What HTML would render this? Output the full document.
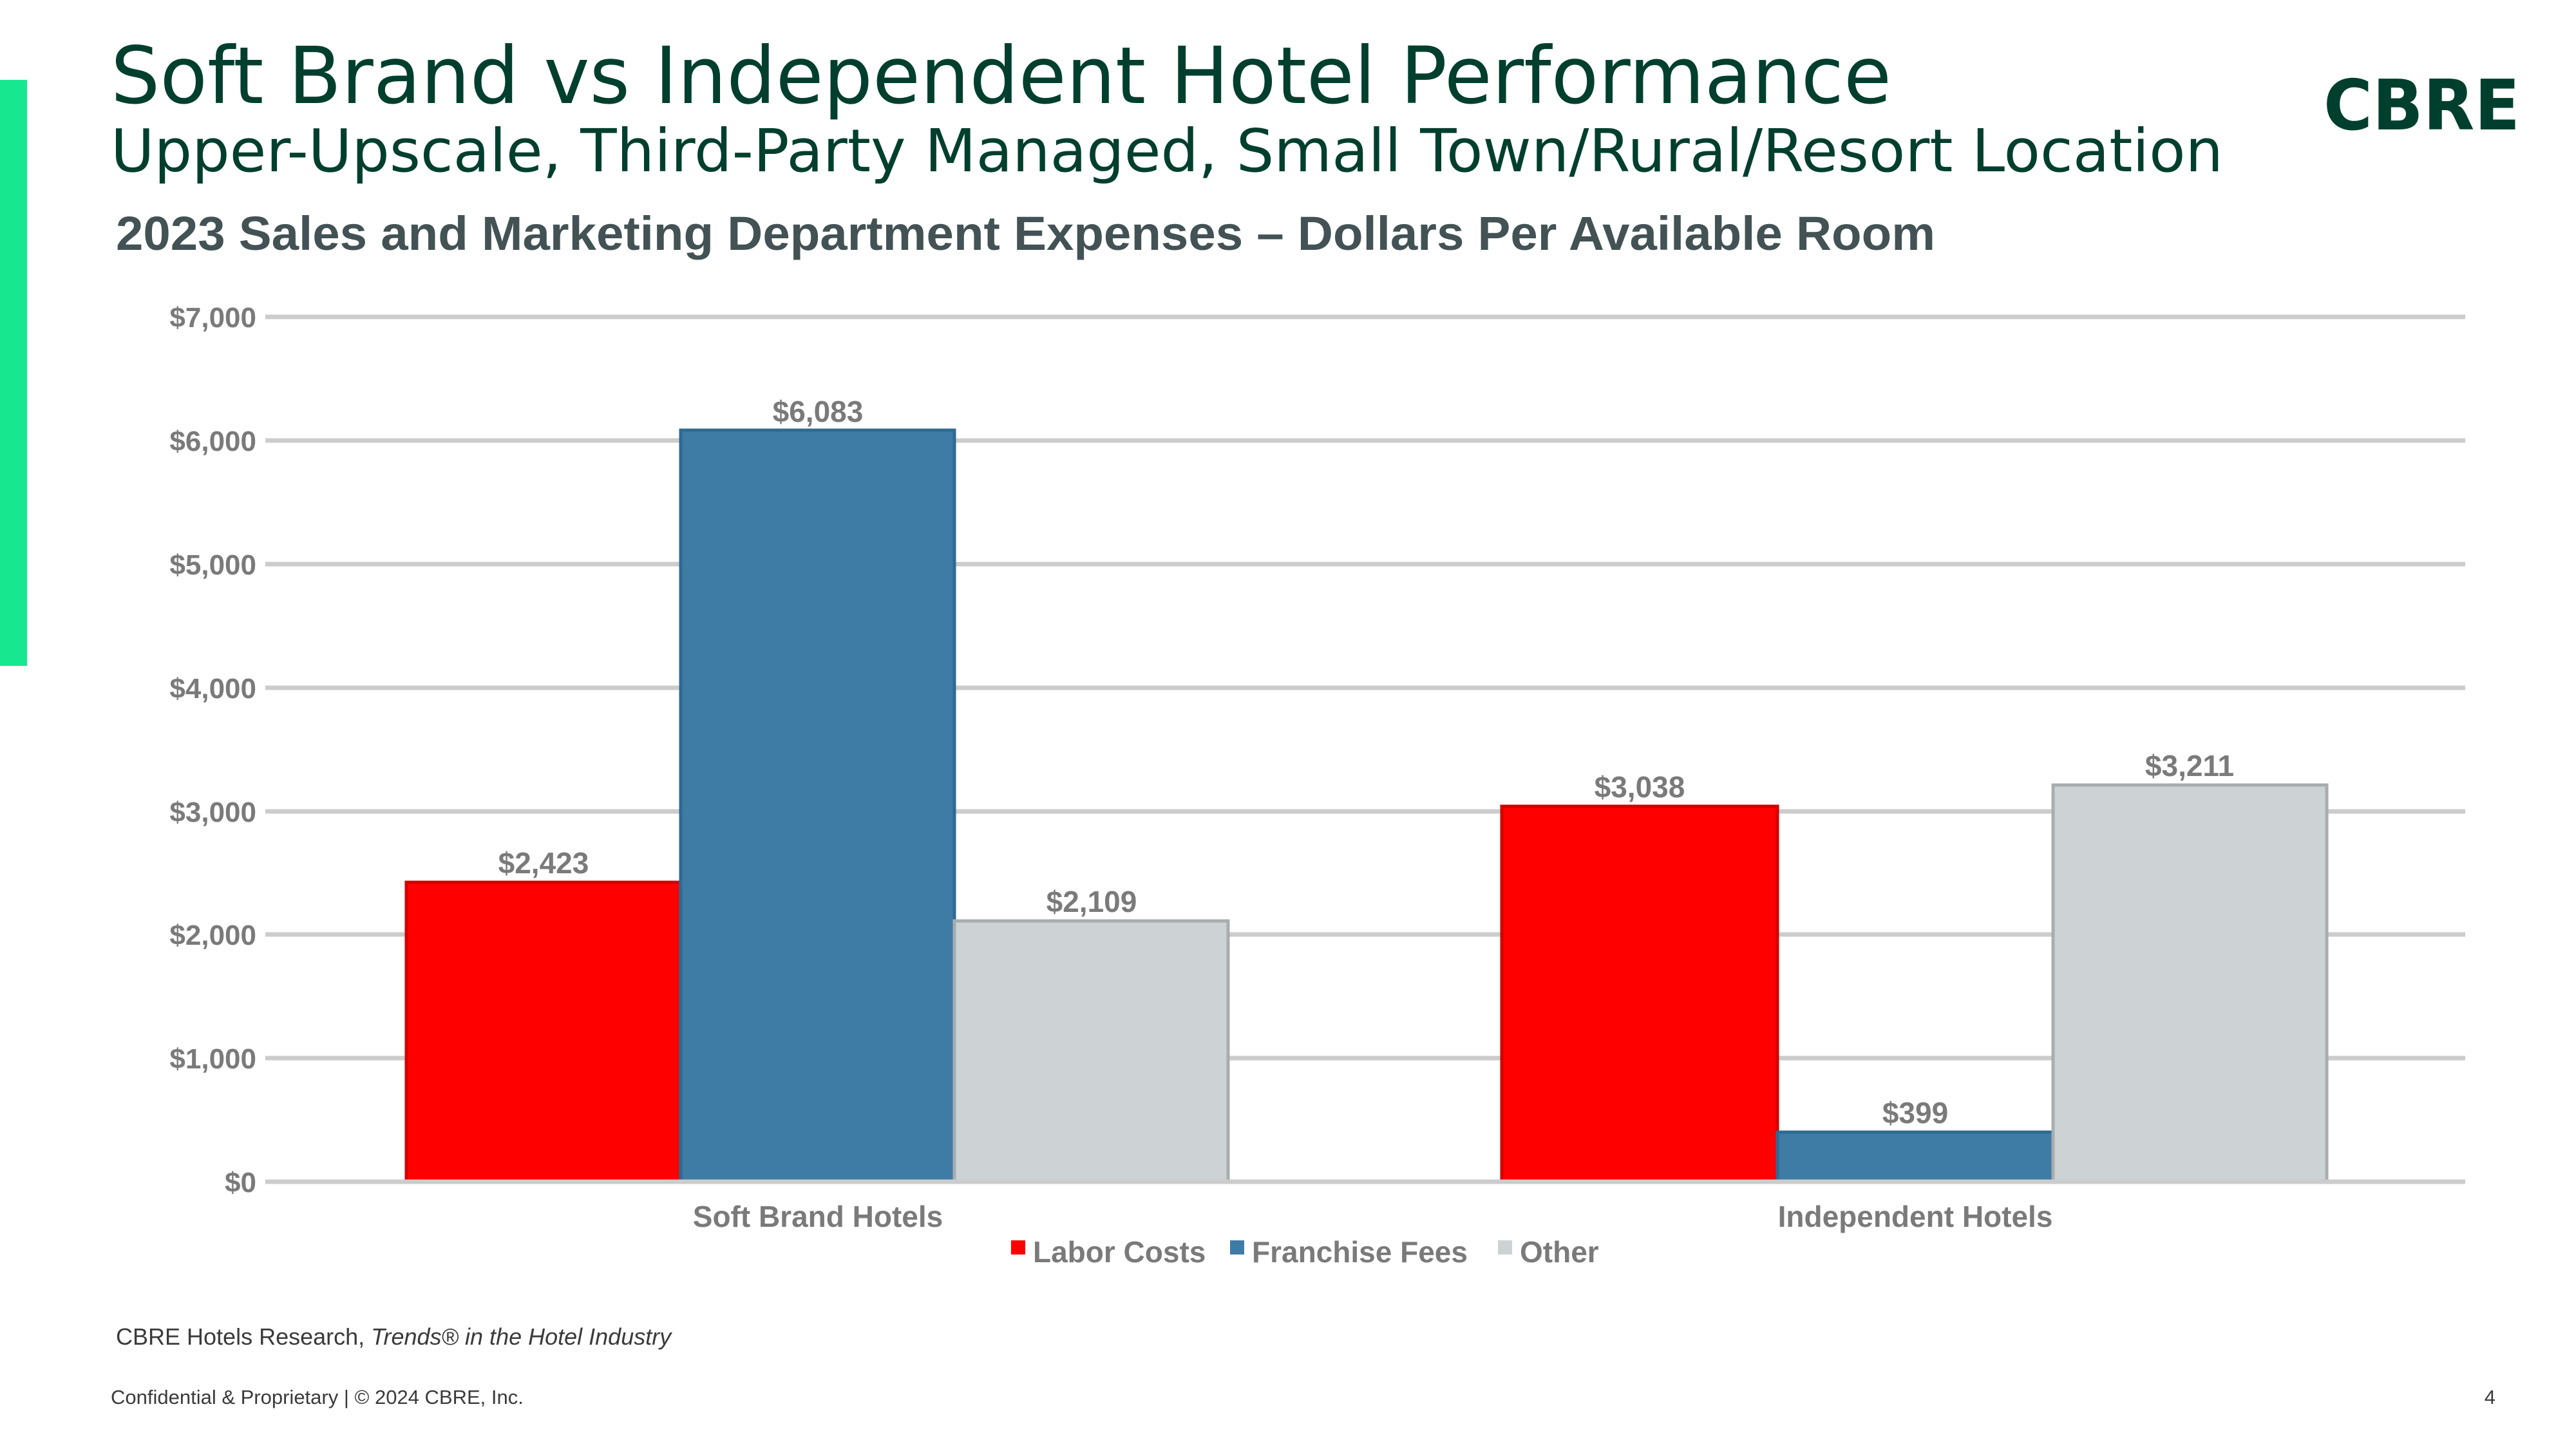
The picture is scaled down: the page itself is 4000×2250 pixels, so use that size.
<!DOCTYPE html>
<html><head><meta charset="utf-8"><style>
html,body{margin:0;padding:0;background:#fff;}
svg{display:block;}
</style></head><body>
<svg width="4000" height="2250" viewBox="0 0 4000 2250" xmlns="http://www.w3.org/2000/svg" font-family="Liberation Sans, sans-serif">
<rect x="0" y="0" width="4000" height="2250" fill="#fff"/>
<rect x="0" y="124" width="42" height="910" fill="#17e88f"/>
<text x="172" y="160" font-size="122" fill="#003f2d" font-family="DejaVu Sans, Liberation Sans, sans-serif" textLength="2765" lengthAdjust="spacingAndGlyphs">Soft Brand vs Independent Hotel Performance</text>
<text x="172" y="266" font-size="92" fill="#003f2d" font-family="DejaVu Sans, Liberation Sans, sans-serif" textLength="3280" lengthAdjust="spacingAndGlyphs">Upper-Upscale, Third-Party Managed, Small Town/Rural/Resort Location</text>
<text x="3608" y="201" font-size="108" font-weight="bold" fill="#003f2d" font-family="DejaVu Sans, Liberation Sans, sans-serif" textLength="305" lengthAdjust="spacingAndGlyphs">CBRE</text>
<text x="180" y="388" font-size="74" font-weight="bold" fill="#435254" textLength="2825" lengthAdjust="spacingAndGlyphs">2023 Sales and Marketing Department  Expenses – Dollars Per Available Room</text>
<g stroke="#cccccc" stroke-width="7">
<line x1="412" y1="492" x2="3828" y2="492"/>
<line x1="412" y1="684" x2="3828" y2="684"/>
<line x1="412" y1="876" x2="3828" y2="876"/>
<line x1="412" y1="1068" x2="3828" y2="1068"/>
<line x1="412" y1="1260" x2="3828" y2="1260"/>
<line x1="412" y1="1451" x2="3828" y2="1451"/>
<line x1="412" y1="1643" x2="3828" y2="1643"/>
</g>
<g font-size="44" font-weight="bold" fill="#7a7a7a" text-anchor="end">
<text x="398" y="508">$7,000</text>
<text x="398" y="700">$6,000</text>
<text x="398" y="892">$5,000</text>
<text x="398" y="1084">$4,000</text>
<text x="398" y="1276">$3,000</text>
<text x="398" y="1467">$2,000</text>
<text x="398" y="1659">$1,000</text>
<text x="398" y="1851">$0</text>
</g>
<g stroke-width="5">
<rect x="631" y="1370" width="426" height="465" fill="#ff0000" stroke="#d40000"/>
<rect x="1057" y="668" width="425" height="1167" fill="#3e7ca6" stroke="#2f6a90"/>
<rect x="1482" y="1430" width="425" height="405" fill="#cdd2d4" stroke="#a8adaf"/>
<rect x="2332" y="1252" width="428" height="583" fill="#ff0000" stroke="#d40000"/>
<rect x="2760" y="1758" width="428" height="77" fill="#3e7ca6" stroke="#2f6a90"/>
<rect x="3188" y="1219" width="425" height="616" fill="#cdd2d4" stroke="#a8adaf"/>
</g>
<line x1="412" y1="1835" x2="3828" y2="1835" stroke="#cccccc" stroke-width="7"/>
<g font-size="46" font-weight="bold" fill="#7a7a7a" text-anchor="middle">
<text x="844" y="1356">$2,423</text>
<text x="1270" y="655">$6,083</text>
<text x="1695" y="1416">$2,109</text>
<text x="2546" y="1238">$3,038</text>
<text x="2974" y="1744">$399</text>
<text x="3400" y="1205">$3,211</text>
<text x="1270" y="1905">Soft Brand Hotels</text>
<text x="2974" y="1905">Independent Hotels</text>
</g>
<g font-size="46" font-weight="bold" fill="#7a7a7a">
<rect x="1570" y="1926" width="22" height="22" fill="#ff0000"/>
<text x="1604" y="1960">Labor Costs</text>
<rect x="1910" y="1926" width="22" height="22" fill="#3e7ca6"/>
<text x="1944" y="1960">Franchise Fees</text>
<rect x="2326" y="1926" width="22" height="22" fill="#cdd2d4"/>
<text x="2360" y="1960">Other</text>
</g>
<text x="180" y="2088" font-size="36" fill="#3a3a3a">CBRE Hotels Research, <tspan font-style="italic">Trends® in the Hotel Industry</tspan></text>
<text x="172" y="2180" font-size="31" fill="#3a3a3a">Confidential &amp; Proprietary | © 2024 CBRE, Inc.</text>
<text x="3875" y="2180" font-size="31" fill="#3a3a3a" text-anchor="end">4</text>
</svg>
</body></html>
